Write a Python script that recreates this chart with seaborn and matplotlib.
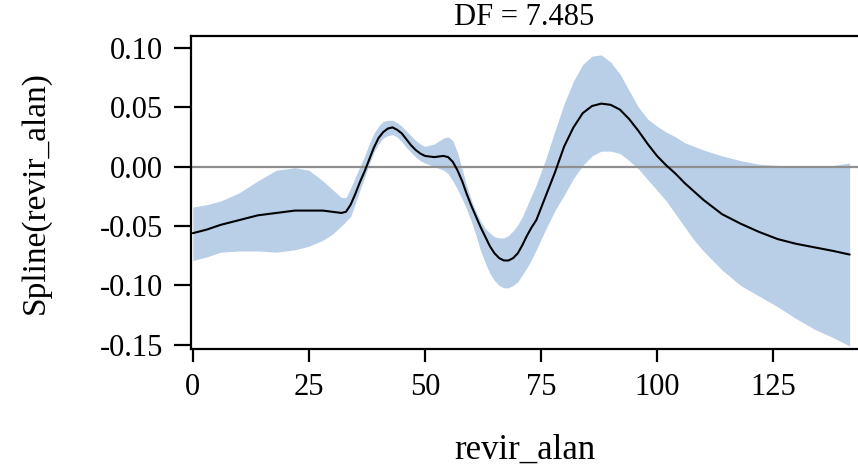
import matplotlib
matplotlib.use("Agg")
import matplotlib.pyplot as plt
import seaborn as sns
import pandas as pd

# values
revir_alan = [0, 3, 6, 10, 14, 18, 22, 25, 28, 30, 32, 33, 34, 35, 36, 37, 38, 39, 40,
              41, 42, 43, 44, 45, 46, 47, 48, 49, 50, 52, 54, 55, 56, 57, 58, 59, 60,
              61, 62, 63, 64, 65, 66, 67, 68, 69, 70, 71, 72, 73, 74, 76, 78, 80, 82,
              84, 86, 88, 90, 92, 94, 96, 98, 100, 102, 104, 106, 108, 110, 114, 118,
              122, 126, 130, 134, 138, 141.5]
spline_fit = [-0.056, -0.053, -0.049, -0.045, -0.041, -0.039, -0.037, -0.037, -0.037,
              -0.038, -0.039, -0.038, -0.032, -0.023, -0.013, -0.004, 0.006, 0.016, 0.024,
              0.029, 0.032, 0.033, 0.031, 0.028, 0.023, 0.018, 0.014, 0.011, 0.009, 0.008,
              0.009, 0.008, 0.004, -0.003, -0.012, -0.023, -0.033, -0.042, -0.051, -0.059,
              -0.067, -0.073, -0.077, -0.079, -0.079, -0.077, -0.073, -0.066, -0.058,
              -0.051, -0.045, -0.025, -0.005, 0.017, 0.033, 0.045, 0.051, 0.053, 0.052,
              0.048, 0.040, 0.030, 0.019, 0.009, 0.001, -0.006, -0.014, -0.021, -0.028,
              -0.040, -0.048, -0.055, -0.061, -0.065, -0.068, -0.071, -0.074]
ci_upper = [-0.034, -0.032, -0.029, -0.022, -0.012, -0.003, -0.001, -0.003, -0.012,
            -0.019, -0.026, -0.026, -0.018, -0.009, 0.000, 0.009, 0.019, 0.028, 0.034,
            0.038, 0.039, 0.039, 0.037, 0.034, 0.030, 0.026, 0.022, 0.019, 0.017, 0.019,
            0.024, 0.025, 0.022, 0.012, -0.002, -0.016, -0.028, -0.038, -0.046, -0.052,
            -0.056, -0.059, -0.060, -0.060, -0.058, -0.054, -0.049, -0.042, -0.033,
            -0.024, -0.015, 0.006, 0.030, 0.053, 0.072, 0.086, 0.093, 0.094, 0.088,
            0.078, 0.064, 0.050, 0.040, 0.034, 0.029, 0.025, 0.020, 0.017, 0.014,
            0.009, 0.005, 0.002, 0.001, 0.000, 0.000, 0.001, 0.003]
ci_lower = [-0.079, -0.076, -0.072, -0.071, -0.071, -0.072, -0.070, -0.067, -0.062,
            -0.057, -0.050, -0.046, -0.042, -0.031, -0.020, -0.009, 0.002, 0.012, 0.019,
            0.024, 0.026, 0.027, 0.025, 0.021, 0.016, 0.012, 0.008, 0.005, 0.003, 0.000,
            -0.003, -0.006, -0.012, -0.019, -0.027, -0.036, -0.046, -0.058, -0.071,
            -0.081, -0.090, -0.096, -0.100, -0.102, -0.102, -0.100, -0.097, -0.091,
            -0.085, -0.078, -0.070, -0.053, -0.037, -0.024, -0.010, 0.001, 0.009, 0.013,
            0.013, 0.011, 0.005, -0.002, -0.011, -0.020, -0.029, -0.040, -0.051, -0.062,
            -0.071, -0.087, -0.100, -0.109, -0.118, -0.128, -0.137, -0.144, -0.151]

x_ticks = [0, 25, 50, 75, 100, 125]
y_ticks = [-0.15, -0.10, -0.05, 0.00, 0.05, 0.10]
y_ticklabels = ["-0.15", "-0.10", "-0.05", "0.00", "0.05", "0.10"]

df = pd.DataFrame({"revir_alan": revir_alan, "fit": spline_fit,
                   "lo": ci_lower, "hi": ci_upper})

sns.set_style("white")
plt.rcParams["font.family"] = ["Liberation Serif", "DejaVu Serif"]
plt.rcParams["axes.unicode_minus"] = False
plt.rcParams["text.color"] = "black"
plt.rcParams["axes.labelcolor"] = "black"

fig = plt.figure(figsize=(8.58, 4.70), dpi=100)
ax = fig.add_axes([0.2226, 0.2574, 0.7774, 0.666])

ax.fill_between(df["revir_alan"], df["lo"], df["hi"], color="#b9cfe7", lw=0, zorder=1)
ax.axhline(0, color="#8f8f8f", lw=1.6, zorder=2)
sns.lineplot(data=df, x="revir_alan", y="fit", color="black", lw=1.5, ax=ax, zorder=3)

ax.set_xlim(-0.4, 143.3)
ax.set_ylim(-0.1535, 0.1099)
ax.set_xticks(x_ticks)
ax.set_xticklabels([str(t) for t in x_ticks])
ax.set_yticks(y_ticks)
ax.set_yticklabels(y_ticklabels)

for s in ["left", "bottom", "top"]:
    ax.spines[s].set_color("black")
    ax.spines[s].set_linewidth(1.6)
ax.spines["right"].set_visible(False)

ax.tick_params(axis="y", direction="out", length=12, width=1.6, pad=8,
               labelsize=22, colors="black", left=True)
ax.tick_params(axis="x", direction="out", length=9.5, width=1.6, pad=8,
               labelsize=22, colors="black", bottom=True)

ax.set_title("DF = 7.485", fontsize=22, pad=8, color="black")
ax.set_xlabel("revir_alan", fontsize=25, color="black")
ax.set_ylabel("Spline(revir_alan)", fontsize=24, color="black")
ax.xaxis.set_label_coords(0.5, -0.27)
ax.yaxis.set_label_coords(-0.211, 0.5)

fig.savefig("out.png", dpi=100)
